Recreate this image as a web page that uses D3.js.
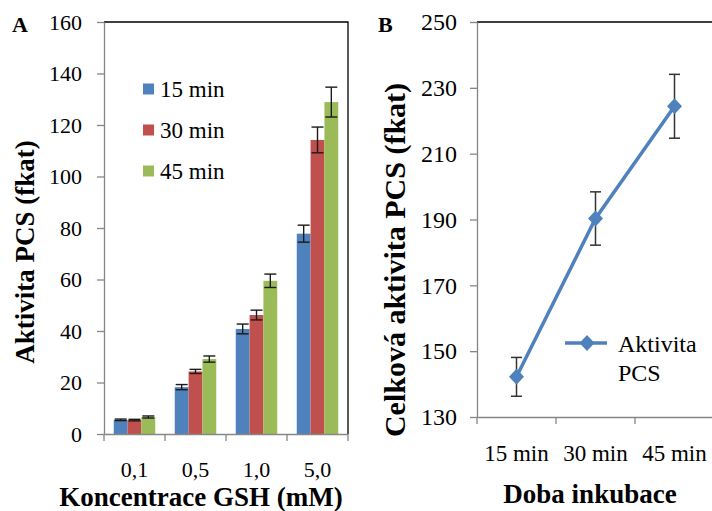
<!DOCTYPE html>
<html>
<head>
<meta charset="utf-8">
<script src="https://cdn.jsdelivr.net/npm/d3@7"></script>
</head>
<body style="margin:0; background:#fff">
<script>
// Panel A data
const concentrations = ["0,1", "0,5", "1,0", "5,0"];
const seriesNames = ["15 min", "30 min", "45 min"];
const activity15 = [5.5, 18.2, 40.8, 77.8];
const activity30 = [5.4, 24.3, 46.2, 114.2];
const activity45 = [6.6, 29.1, 59.5, 128.9];
const err15 = [0.3, 1.0, 1.9, 3.3];
const err30 = [0.3, 0.8, 1.9, 5.0];
const err45 = [0.4, 1.2, 2.6, 5.8];
const ticksA = [0, 20, 40, 60, 80, 100, 120, 140, 160];

// Panel B data
const times = ["15 min", "30 min", "45 min"];
const totalActivity = [142.2, 190.3, 224.4];
const totalErr = [5.9, 8.1, 9.7];
const ticksB = [130, 150, 170, 190, 210, 230, 250];

const colors = ["#4F81BD", "#C0504D", "#9BBB59"];
const axisGray = "#868686";
const FONT = '"Liberation Serif", "Times New Roman", Tinos, serif';

const W = 712, H = 511;
const svg = d3.select("body").append("svg")
    .attr("width", W)
    .attr("height", H)
    .style("display", "block");

function label(sel, size, bold) {
  return sel.style("font-family", FONT)
      .style("font-size", size + "px")
      .style("font-weight", bold ? "bold" : "normal")
      .attr("fill", "#000");
}

// ---------- Panel A ----------
const A = { left: 104, right: 348, top: 22, bottom: 434 };

const x0 = d3.scaleBand()
    .domain(concentrations)
    .range([A.left, A.right]);

const bw = x0.bandwidth();
const x1 = d3.scaleBand()
    .domain(seriesNames)
    .range([bw * 0.16, bw * 0.84]);

const yA = d3.scaleLinear()
    .domain([0, 160])
    .range([A.bottom, A.top]);

const values = [activity15, activity30, activity45];
const errors = [err15, err30, err45];

const barData = [];
seriesNames.forEach((s, si) => {
  concentrations.forEach((c, ci) => {
    barData.push({ s: s, si: si, c: c, v: values[si][ci], e: errors[si][ci] });
  });
});

// frame (top and right)
svg.append("path")
    .attr("d", `M${A.left},${A.top}H${A.right}V${A.bottom}`)
    .attr("fill", "none")
    .attr("stroke", "#000")
    .attr("stroke-width", 1.3);

svg.selectAll("rect.bar")
    .data(barData)
    .enter()
    .append("rect")
    .attr("class", "bar")
    .attr("x", d => x0(d.c) + x1(d.s))
    .attr("y", d => yA(d.v))
    .attr("width", x1.bandwidth())
    .attr("height", d => yA(0) - yA(d.v))
    .attr("fill", d => colors[d.si]);

const errA = svg.append("g")
    .attr("stroke", "#1a1a1a")
    .attr("stroke-width", 1.4);

barData.forEach(d => {
  const cx = x0(d.c) + x1(d.s) + x1.bandwidth() / 2;
  errA.append("line")
      .attr("x1", cx).attr("x2", cx)
      .attr("y1", yA(d.v + d.e)).attr("y2", yA(d.v - d.e));
  [d.v + d.e, d.v - d.e].forEach(v => {
    errA.append("line")
        .attr("x1", cx - 6).attr("x2", cx + 6)
        .attr("y1", yA(v)).attr("y2", yA(v));
  });
});

// y axis
const yAxisA = svg.append("g")
    .attr("transform", `translate(${A.left},0)`)
    .call(d3.axisLeft(yA).tickValues(ticksA).tickSize(7).tickPadding(15).tickSizeOuter(0));
yAxisA.select(".domain").attr("stroke", axisGray).attr("stroke-width", 1.3);
yAxisA.selectAll(".tick line").attr("stroke", axisGray).attr("stroke-width", 1.3);
label(yAxisA.selectAll("text"), 22);

// x axis
const xAxisA = svg.append("g")
    .attr("transform", `translate(0,${A.bottom})`)
    .call(d3.axisBottom(x0).tickSize(0).tickPadding(27).tickSizeOuter(0));
xAxisA.select(".domain").attr("stroke", axisGray).attr("stroke-width", 1.3);
label(xAxisA.selectAll("text"), 22);
xAxisA.selectAll("line.edge")
    .data(concentrations.map(c => x0(c)).concat([A.right]))
    .enter()
    .append("line")
    .attr("class", "edge")
    .attr("x1", d => d).attr("x2", d => d)
    .attr("y1", 0).attr("y2", 7)
    .attr("stroke", axisGray)
    .attr("stroke-width", 1.3);

// legend A
const legA = svg.append("g");
seriesNames.forEach((s, i) => {
  const ly = 89 + i * 41;
  legA.append("rect")
      .attr("x", 143).attr("y", ly - 5.5)
      .attr("width", 11).attr("height", 11)
      .attr("fill", colors[i]);
  label(legA.append("text"), 23)
      .attr("x", 160).attr("y", ly + 8)
      .text(s);
});

// titles A
label(svg.append("text"), 22, true)
    .attr("x", 12).attr("y", 32)
    .text("A");

label(svg.append("text"), 27, true)
    .attr("transform", "translate(34,252) rotate(-90)")
    .attr("text-anchor", "middle")
    .text("Aktivita PCS (fkat)");

label(svg.append("text"), 27, true)
    .attr("x", 201).attr("y", 506)
    .attr("text-anchor", "middle")
    .text("Koncentrace GSH (mM)");

// ---------- Panel B ----------
const B = { left: 477, right: 714, top: 22, bottom: 417 };

const xB = d3.scaleBand()
    .domain(times)
    .range([B.left, B.right]);

const yB = d3.scaleLinear()
    .domain([130, 250])
    .range([B.bottom, B.top]);

const pts = times.map((t, i) => ({ t: t, v: totalActivity[i], e: totalErr[i] }));
const cxB = d => xB(d.t) + xB.bandwidth() / 2;

svg.append("path")
    .attr("d", `M${B.left},${B.top}H${B.right}V${B.bottom}`)
    .attr("fill", "none")
    .attr("stroke", "#000")
    .attr("stroke-width", 1.3);

const errB = svg.append("g")
    .attr("stroke", "#333")
    .attr("stroke-width", 1.5);
pts.forEach(d => {
  errB.append("line")
      .attr("x1", cxB(d)).attr("x2", cxB(d))
      .attr("y1", yB(d.v + d.e)).attr("y2", yB(d.v - d.e));
  [d.v + d.e, d.v - d.e].forEach(v => {
    errB.append("line")
        .attr("x1", cxB(d) - 5.5).attr("x2", cxB(d) + 5.5)
        .attr("y1", yB(v)).attr("y2", yB(v));
  });
});

svg.append("path")
    .datum(pts)
    .attr("fill", "none")
    .attr("stroke", colors[0])
    .attr("stroke-width", 3.5)
    .attr("d", d3.line().x(cxB).y(d => yB(d.v)));

const diamond = "M0,-8L7.5,0L0,8L-7.5,0Z";
svg.selectAll("path.mark")
    .data(pts)
    .enter()
    .append("path")
    .attr("class", "mark")
    .attr("transform", d => `translate(${cxB(d)},${yB(d.v)})`)
    .attr("d", diamond)
    .attr("fill", colors[0]);

const yAxisB = svg.append("g")
    .attr("transform", `translate(${B.left},0)`)
    .call(d3.axisLeft(yB).tickValues(ticksB).tickSize(7).tickPadding(13).tickSizeOuter(0));
yAxisB.select(".domain").attr("stroke", axisGray).attr("stroke-width", 1.3);
yAxisB.selectAll(".tick line").attr("stroke", axisGray).attr("stroke-width", 1.3);
label(yAxisB.selectAll("text"), 24);

const xAxisB = svg.append("g")
    .attr("transform", `translate(0,${B.bottom})`)
    .call(d3.axisBottom(xB).tickSize(0).tickPadding(28).tickSizeOuter(0));
xAxisB.select(".domain").attr("stroke", axisGray).attr("stroke-width", 1.3);
label(xAxisB.selectAll("text"), 23);
xAxisB.selectAll("line.edge")
    .data(times.map(t => xB(t)).concat([B.right]))
    .enter()
    .append("line")
    .attr("class", "edge")
    .attr("x1", d => d).attr("x2", d => d)
    .attr("y1", 0).attr("y2", 7)
    .attr("stroke", axisGray)
    .attr("stroke-width", 1.3);

// legend B
const legB = svg.append("g");
legB.append("line")
    .attr("x1", 565).attr("x2", 607)
    .attr("y1", 343).attr("y2", 343)
    .attr("stroke", colors[0])
    .attr("stroke-width", 3.5);
legB.append("path")
    .attr("transform", "translate(587,343)")
    .attr("d", diamond)
    .attr("fill", colors[0]);
label(legB.append("text"), 24)
    .attr("x", 618).attr("y", 352)
    .text("Aktivita");
label(legB.append("text"), 24)
    .attr("x", 618).attr("y", 381)
    .text("PCS");

// titles B
label(svg.append("text"), 22, true)
    .attr("x", 378).attr("y", 32)
    .text("B");

label(svg.append("text"), 30, true)
    .attr("transform", "translate(405,260) rotate(-90)")
    .attr("text-anchor", "middle")
    .text("Celková aktivita PCS (fkat)");

label(svg.append("text"), 27, true)
    .attr("x", 590).attr("y", 503)
    .attr("text-anchor", "middle")
    .text("Doba inkubace");
</script>
</body>
</html>
